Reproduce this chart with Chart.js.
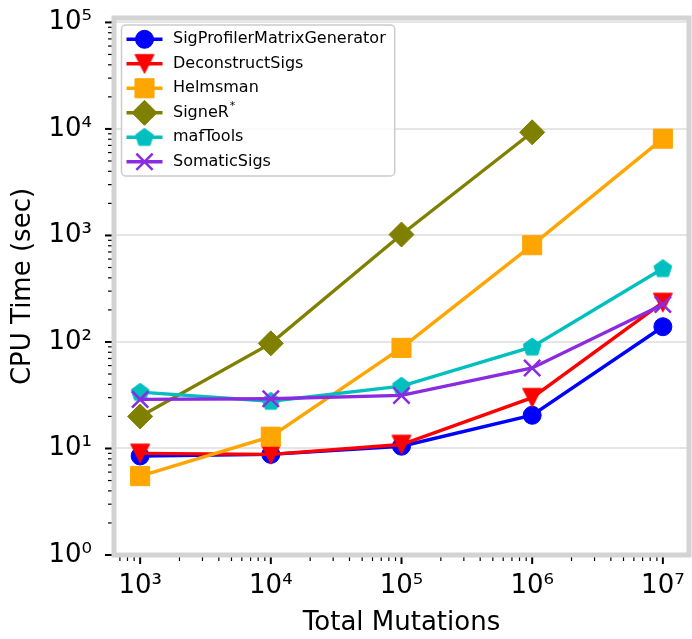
<!DOCTYPE html>
<html>
<head>
<meta charset="utf-8">
<script src="https://cdn.jsdelivr.net/npm/chart.js@4/dist/chart.umd.min.js"></script>
<style>
  html, body { margin: 0; padding: 0; background: #fff; }
  #chart { display: block; }
</style>
</head>
<body>
<canvas id="chart" width="692" height="639"></canvas>
<script>
// values (CPU seconds per tool)
const mutations = [1e3, 1e4, 1e5, 1e6, 1e7];
const sigProfilerTimes = [8.5, 8.8, 10.5, 20.5, 139];
const deconstructSigsTimes = [9.0, 8.8, 10.9, 30, 235];
const helmsmanTimes = [5.5, 12.9, 88, 810, 8100];
const signeRTimes = [20, 97, 1020, 9300, null];
const mafToolsTimes = [33.8, 27.8, 38.5, 90, 490];
const somaticSigsTimes = [28.9, 29.3, 31.5, 57, 225];

const seriesNames = ['SigProfilerMatrixGenerator', 'DeconstructSigs', 'Helmsman', 'SigneR', 'mafTools', 'SomaticSigs'];
const seriesValues = [sigProfilerTimes, deconstructSigsTimes, helmsmanTimes, signeRTimes, mafToolsTimes, somaticSigsTimes];
const seriesColors = ['#0000ff', '#ff0000', '#ffa500', '#808000', '#00bfbf', '#8a2be2'];

// axis ticks
const xMajorTicks = [1e3, 1e4, 1e5, 1e6, 1e7];
const yMajorTicks = [1e0, 1e1, 1e2, 1e3, 1e4, 1e5];
const minorSteps = [2, 3, 4, 5, 6, 7, 8, 9];
const superDigits = ['⁰', '¹', '²', '³', '⁴', '⁵', '⁶', '⁷', '⁸', '⁹'];

const isDecade = v => Math.abs(Math.log10(v) - Math.round(Math.log10(v))) < 1e-9;
const decadeLabel = v => isDecade(v) ? '10' + superDigits[Math.round(Math.log10(v))] : '';

function tickList(majors, min, max) {
    const out = [];
    majors.concat([majors[0] / 10]).forEach(m => {
        out.push(m);
        minorSteps.forEach(s => out.push(m * s));
    });
    return out.filter(v => v >= min && v <= max).sort((a, b) => a - b)
        .map(v => ({ value: v, major: isDecade(v) }));
}

// markers chart.js doesn't ship: matplotlib 'v' and 'p'
function markerCanvas(color, draw) {
    const c = document.createElement('canvas');
    c.width = 24; c.height = 24;
    const g = c.getContext('2d');
    g.fillStyle = color; g.strokeStyle = color; g.lineWidth = 1;
    g.beginPath(); draw(g); g.closePath();
    g.fill(); g.stroke();
    return c;
}
const triangleDown = markerCanvas('#ff0000', g => {
    g.moveTo(2.5, 2.8); g.lineTo(21.5, 2.8); g.lineTo(12, 21.5);
});
const pentagon = markerCanvas('#00bfbf', g => {
    for (let k = 0; k < 5; k++) {
        const a = -Math.PI / 2 + k * 2 * Math.PI / 5;
        const px = 12 + 9.4 * Math.cos(a), py = 12.5 + 9.4 * Math.sin(a);
        if (k) g.lineTo(px, py); else g.moveTo(px, py);
    }
});

const pointStyles = ['circle', triangleDown, 'rect', 'rectRot', pentagon, 'crossRot'];
const pointRadii = [9, 10, 13.5, 12.5, 10, 11.5];
const pointBorders = [1, 1, 1, 1, 1, 2.5];

const xMin = Math.pow(10, 2.8), xMax = Math.pow(10, 7.2);
const yMin = 1, yMax = 1.1e5;

// ticks, frame and boxed legend drawn over the plot, like matplotlib
const frameAndLegend = {
    id: 'frameAndLegend',
    afterDraw(chart) {
        const ctx = chart.ctx;
        const area = chart.chartArea;
        const xs = chart.scales.x, ys = chart.scales.y;

        ctx.save();
        ctx.strokeStyle = '#000';
        xs.ticks.forEach(t => {
            const px = xs.getPixelForValue(t.value);
            const major = isDecade(t.value);
            ctx.lineWidth = major ? 2 : 1.2;
            ctx.beginPath();
            ctx.moveTo(px, area.bottom);
            ctx.lineTo(px, area.bottom + (major ? 9 : 6));
            ctx.stroke();
        });
        ys.ticks.forEach(t => {
            const py = ys.getPixelForValue(t.value);
            const major = isDecade(t.value);
            ctx.lineWidth = major ? 2 : 1.2;
            ctx.beginPath();
            ctx.moveTo(area.left - (major ? 9 : 6), py);
            ctx.lineTo(area.left, py);
            ctx.stroke();
        });

        // light grey frame
        ctx.lineWidth = 5;
        ctx.strokeStyle = '#d3d3d3';
        ctx.strokeRect(area.left, area.top, area.right - area.left, area.bottom - area.top);

        // legend
        const font = '16px "DejaVu Sans"';
        ctx.font = font;
        const rowH = 24.5;
        const bx = area.left + 7.5, by = area.top + 7;
        const textX = bx + 51.5;
        let widest = 0;
        chart.data.datasets.forEach(ds => {
            widest = Math.max(widest, ctx.measureText(ds.label).width);
        });
        const bw = textX - bx + widest + 9;
        const bh = 14 + rowH * chart.data.datasets.length - 10;
        ctx.beginPath();
        ctx.roundRect(bx, by, bw, bh, 4);
        ctx.fillStyle = 'rgba(255,255,255,0.85)';
        ctx.fill();
        ctx.lineWidth = 1.5;
        ctx.strokeStyle = '#cccccc';
        ctx.stroke();

        chart.data.datasets.forEach((ds, i) => {
            const cy = by + 14.3 + i * rowH;
            ctx.strokeStyle = ds.borderColor;
            ctx.fillStyle = ds.backgroundColor;
            ctx.lineWidth = ds.borderWidth;
            ctx.beginPath();
            ctx.moveTo(bx + 5, cy);
            ctx.lineTo(bx + 41, cy);
            ctx.stroke();
            ctx.lineWidth = ds.pointBorderWidth;
            Chart.helpers.drawPoint(ctx, {
                pointStyle: ds.pointStyle, radius: ds.pointRadius, rotation: 0, borderWidth: ds.pointBorderWidth
            }, bx + 23, cy);

            ctx.fillStyle = '#000';
            ctx.font = font;
            ctx.textBaseline = 'middle';
            ctx.textAlign = 'left';
            ctx.fillText(ds.label, textX, cy);
            if (ds.label === 'SigneR') {
                const w = ctx.measureText(ds.label).width;
                ctx.font = '11px "DejaVu Sans"';
                ctx.fillText('*', textX + w + 1, cy - 7);
            }
        });
        ctx.restore();
    }
};

Chart.defaults.font.family = '"DejaVu Sans", sans-serif';
Chart.defaults.color = '#000';

new Chart(document.getElementById('chart'), {
    type: 'line',
    data: {
        datasets: seriesValues.map((vals, i) => ({
            label: seriesNames[i],
            data: mutations.map((m, j) => ({ x: m, y: vals[j] })),
            borderColor: seriesColors[i],
            backgroundColor: seriesColors[i],
            borderWidth: 3.4,
            pointStyle: pointStyles[i],
            pointRadius: pointRadii[i],
            pointHoverRadius: pointRadii[i],
            pointBorderWidth: pointBorders[i],
            tension: 0,
            order: seriesNames.length - i
        }))
    },
    options: {
        responsive: false,
        animation: false,
        events: [],
        layout: { autoPadding: false, padding: { top: 18, right: 3, left: 0, bottom: 0 } },
        plugins: {
            legend: { display: false },
            tooltip: { enabled: false }
        },
        scales: {
            x: {
                type: 'logarithmic',
                min: xMin,
                max: xMax,
                afterBuildTicks: s => { s.ticks = tickList(xMajorTicks, xMin, xMax); },
                afterFit: s => {
                    s.height = 84;
                    s.paddingLeft = 0; s.paddingRight = 0;
                },
                grid: { display: false, drawTicks: false },
                border: { display: false },
                ticks: {
                    autoSkip: false,
                    maxRotation: 0,
                    padding: 16,
                    font: { size: 26 },
                    callback: v => decadeLabel(v)
                },
                title: {
                    display: true,
                    text: 'Total Mutations',
                    font: { size: 26 },
                    padding: { top: 0, bottom: 0 }
                }
            },
            y: {
                type: 'logarithmic',
                min: yMin,
                max: yMax,
                afterBuildTicks: s => { s.ticks = tickList(yMajorTicks, yMin, yMax); },
                afterFit: s => {
                    s.width = 114;
                    s.paddingTop = 0; s.paddingBottom = 0;
                },
                grid: {
                    drawTicks: false,
                    lineWidth: 2,
                    color: c => (c.tick && isDecade(c.tick.value)) ? '#e5e5e5' : 'rgba(0,0,0,0)'
                },
                border: { display: false },
                ticks: {
                    autoSkip: false,
                    padding: 22,
                    font: { size: 26 },
                    callback: v => decadeLabel(v)
                },
                title: {
                    display: true,
                    text: 'CPU Time (sec)',
                    font: { size: 26 },
                    padding: { top: 8, bottom: 0 }
                }
            }
        }
    },
    plugins: [frameAndLegend]
});
</script>
</body>
</html>
